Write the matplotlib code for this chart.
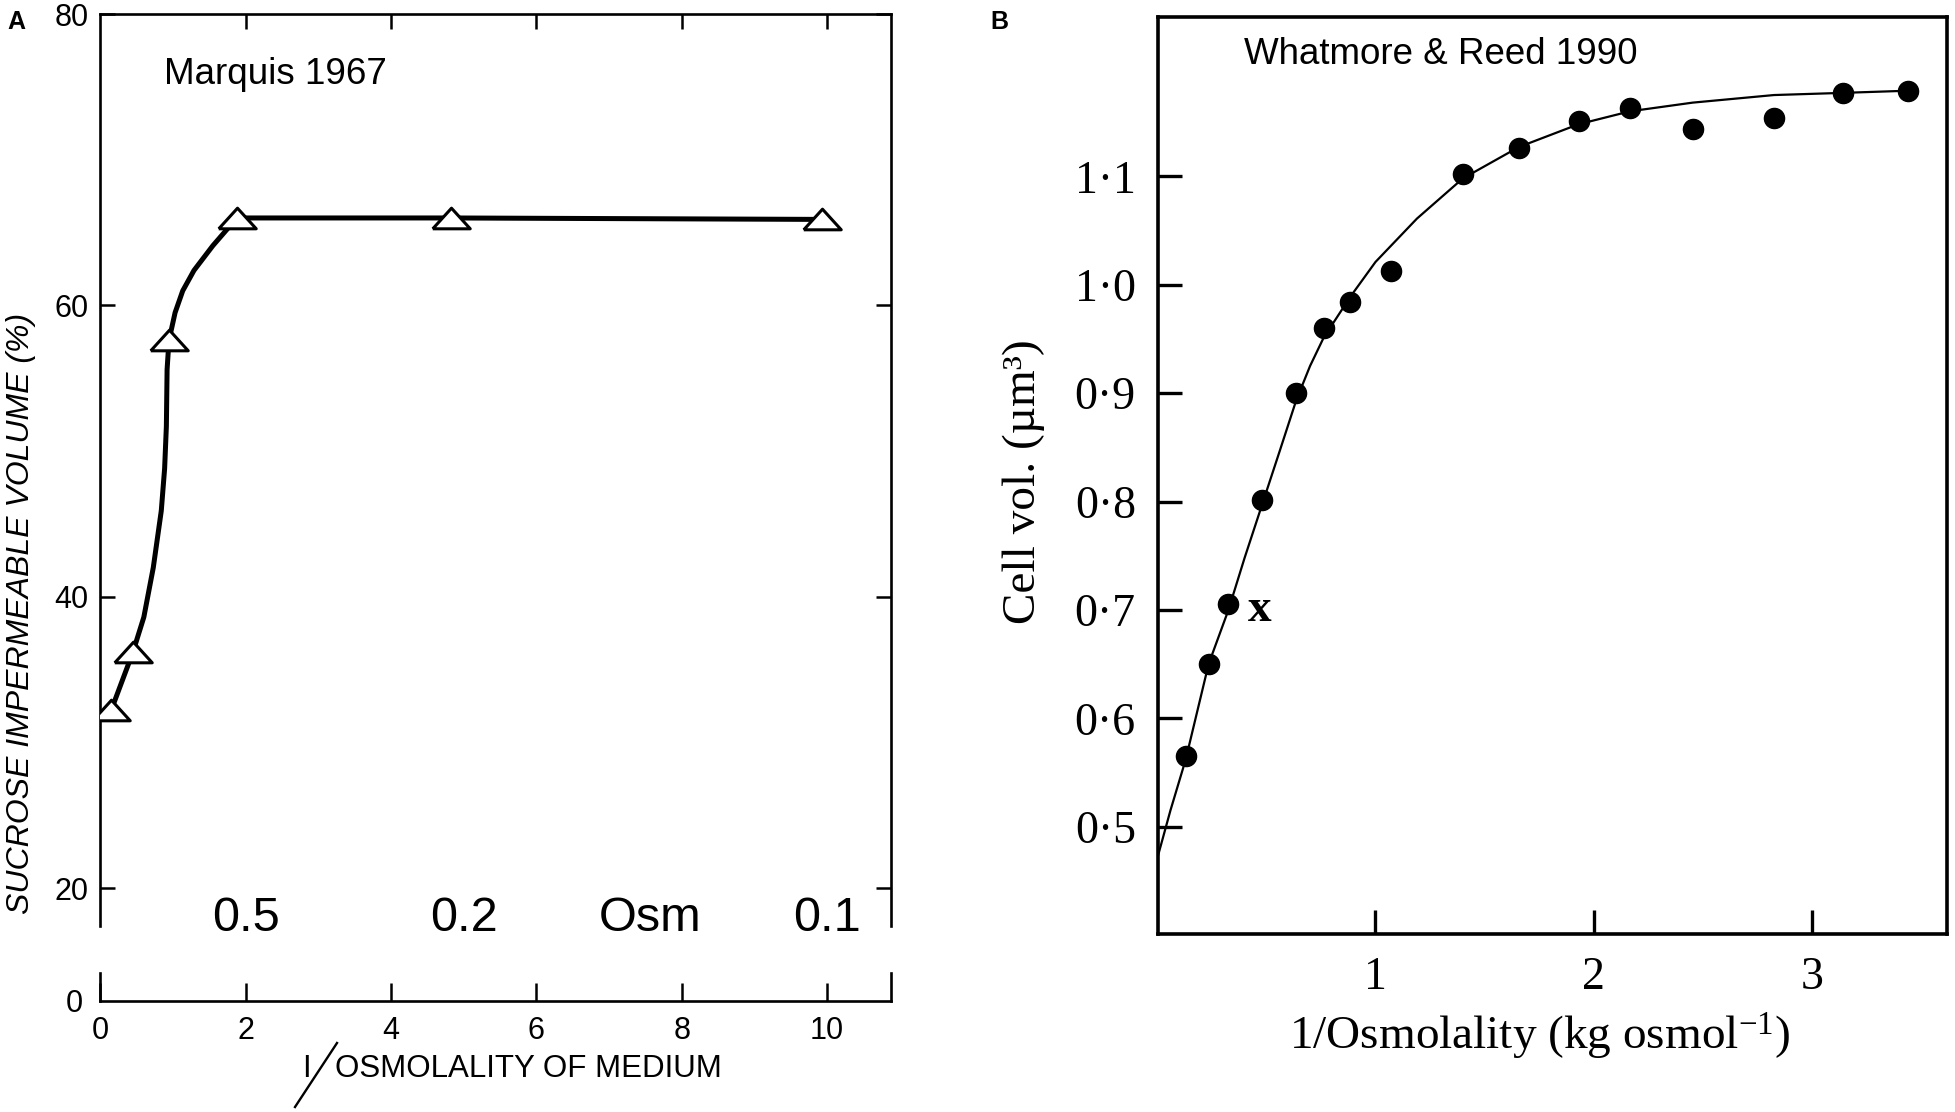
import matplotlib
matplotlib.use("Agg")
import matplotlib.pyplot as plt
from matplotlib.lines import Line2D

plt.rcParams["mathtext.fontset"] = "custom"
plt.rcParams["mathtext.rm"] = "Liberation Serif"
plt.rcParams["mathtext.it"] = "Liberation Serif:italic"

SANS = "Liberation Sans"
SERIF = "Liberation Serif"

# ---- panel A: Marquis 1967 ----
a_x = [0.15, 0.45, 0.95, 1.88, 4.83, 9.93]
a_y = [32.2, 36.2, 57.6, 66.0, 66.0, 65.9]
# hand-drawn curve through the triangles
a_curve_x = [0.15, 0.45, 0.60, 0.73, 0.84, 0.886, 0.91, 0.92, 0.946, 1.03,
             1.135, 1.29, 1.55, 1.88, 4.83, 9.93]
a_curve_y = [32.2, 36.2, 38.6, 42.0, 45.9, 48.8, 51.7, 55.6, 57.6, 59.5,
             61.0, 62.4, 64.1, 66.0, 66.0, 65.9]
a_yticks = [20, 40, 60, 80]
a_xticks = [0, 2, 4, 6, 8, 10]
osm_vals = [0.5, 0.2, 0.1]          # top scale, placed at 1/osm

# ---- panel B: Whatmore & Reed 1990 ----
b_x = [0.132, 0.235, 0.326, 0.481, 0.636, 0.762, 0.885, 1.069, 1.399, 1.657,
       1.932, 2.167, 2.454, 2.827, 3.142, 3.443]
b_y = [0.565, 0.650, 0.705, 0.801, 0.900, 0.960, 0.984, 1.013, 1.102, 1.126,
       1.151, 1.163, 1.144, 1.154, 1.177, 1.179]
b_curve_x = [0.0, 0.06, 0.13, 0.235, 0.326, 0.40, 0.48, 0.56, 0.636, 0.70,
             0.762, 0.885, 1.0, 1.19, 1.40, 1.657, 1.93, 2.167, 2.454, 2.827,
             3.142, 3.443]
b_curve_y = [0.471, 0.515, 0.562, 0.650, 0.700, 0.748, 0.797, 0.846, 0.893,
             0.925, 0.951, 0.989, 1.021, 1.061, 1.098, 1.127, 1.148, 1.160,
             1.168, 1.175, 1.177, 1.179]
b_yticks = [0.5, 0.6, 0.7, 0.8, 0.9, 1.0, 1.1]
b_xticks = [1, 2, 3]

W, H = 1955, 1112
fig = plt.figure(figsize=(W / 100, H / 100), dpi=100)


def fx(px):
    return px / W


def fy(py):
    return 1 - py / H


def box(l, t, r, b):
    return [fx(l), fy(b), fx(r) - fx(l), fy(t) - fy(b)]


# ---------------- A ----------------
axA = fig.add_axes(box(99.5, 14, 891, 926))
axA.set_xlim(-0.01, 10.88)
axA.set_ylim(17.4, 80)
for s in ("left", "right", "top"):
    axA.spines[s].set_linewidth(1.9)
axA.spines["bottom"].set_visible(False)
axA.set_yticks(a_yticks)
axA.set_yticklabels([str(v) for v in a_yticks], fontfamily=SANS, fontsize=22)
axA.set_xticks(a_xticks[1:])
axA.tick_params(axis="y", direction="in", left=True, right=True, length=11,
                width=1.8, pad=8)
axA.tick_params(axis="x", direction="in", top=True, bottom=False,
                labelbottom=False, length=11, width=1.8)

tri = [(-1, -0.55), (1, -0.55), (0, 0.55), (-1, -0.55)]
axA.plot(a_curve_x, a_curve_y, color="black", lw=3.6, solid_capstyle="round",
         zorder=2)
axA.plot(a_x, a_y, ls="none", marker=tri, ms=27, mfc="white", mec="black",
         mew=2.2, zorder=3)

for v in osm_vals:
    axA.text(1 / v, 17.94, f"{v:g}", ha="center", va="center", fontsize=35,
             fontfamily=SANS)
axA.text(7.56, 17.94, "Osm", ha="center", va="center", fontsize=35,
         fontfamily=SANS)
axA.text(0.0815, 0.9337, "Marquis 1967", transform=axA.transAxes, ha="left",
         va="center", fontsize=26.5, fontfamily=SANS)

# broken-off strip holding the zero and the x axis
axS = fig.add_axes(box(99.5, 973, 891, 1001))
axS.set_xlim(axA.get_xlim())
axS.set_ylim(0, 1)
axS.patch.set_alpha(0)
axS.spines["top"].set_visible(False)
for s in ("left", "right", "bottom"):
    axS.spines[s].set_linewidth(1.9)
axS.set_xticks(a_xticks)
axS.set_xticklabels([str(v) for v in a_xticks], fontfamily=SANS, fontsize=22)
axS.set_yticks([0])
axS.set_yticklabels(["0"], fontfamily=SANS, fontsize=22)
axS.tick_params(axis="x", direction="in", length=13, width=1.8, pad=11)
axS.tick_params(axis="y", length=0, pad=12)

fig.text(fx(21), fy(613), "SUCROSE IMPERMEABLE VOLUME (%)", rotation=90,
         ha="center", va="center", fontsize=23, fontstyle="italic",
         fontfamily=SANS)
# x label: "I", a long hand-drawn slash, then the words
fig.text(fx(302), fy(1069), "I", ha="left", va="center", fontsize=22.5,
         fontfamily=SANS)
fig.add_artist(Line2D([fx(337), fx(295)], [fy(1043), fy(1107)],
                      color="black", lw=1.7))
fig.text(fx(335), fy(1069), "OSMOLALITY OF MEDIUM", ha="left", va="center",
         fontsize=22.5, fontfamily=SANS)

# ---------------- B ----------------
axB = fig.add_axes(box(1158, 17, 1947, 934))
axB.set_xlim(0.003, 3.62)
axB.set_ylim(0.401, 1.247)
for s in axB.spines.values():
    s.set_linewidth(2.6)
axB.set_xticks(b_xticks)
axB.set_xticklabels([str(v) for v in b_xticks], fontfamily=SERIF, fontsize=33)
axB.set_yticks(b_yticks)
axB.set_yticklabels([f"{v:.1f}".replace(".", "\u00b7") for v in b_yticks],
                    fontfamily=SERIF, fontsize=33)
axB.tick_params(axis="both", direction="in", length=17, width=2.4, pad=16)

axB.plot(b_curve_x, b_curve_y, color="black", lw=1.6, zorder=2)
axB.plot(b_x, b_y, ls="none", marker="o", ms=14.5, color="black", zorder=3)
axB.text(0.47, 0.70, "x", ha="center", va="center", fontsize=34,
         fontweight="bold", fontfamily=SERIF)
axB.text(0.1094, 0.9586, "Whatmore & Reed 1990", transform=axB.transAxes,
         ha="left", va="center", fontsize=26.5, fontfamily=SANS)

fig.text(fx(1024), fy(482), "Cell vol. (\u00b5m\u00b3)", rotation=90,
         ha="center", va="center", fontsize=34, fontfamily=SERIF)
fig.text(fx(1540), fy(1036), "1/Osmolality (kg osmol$^{-1}$)", ha="center",
         va="center", fontsize=34, fontfamily=SERIF)

# panel letters
fig.text(fx(16), fy(22), "A", ha="center", va="center", fontsize=18,
         fontweight="bold", fontfamily=SANS)
fig.text(fx(999), fy(22), "B", ha="center", va="center", fontsize=18,
         fontweight="bold", fontfamily=SANS)

fig.savefig("out.png", dpi=100, facecolor="white")
